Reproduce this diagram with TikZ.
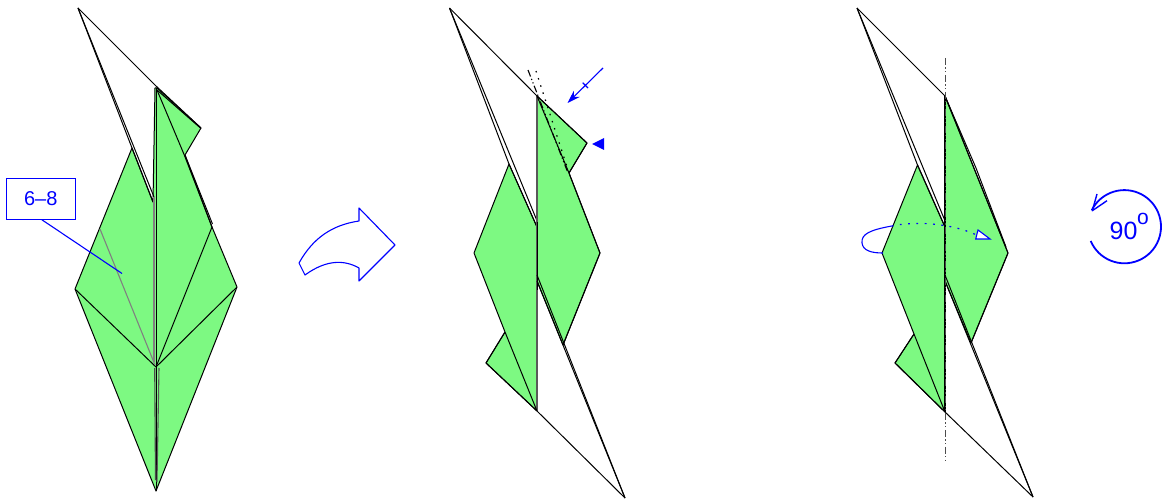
\documentclass[tikz,border=0pt]{standalone}
\usepackage{fontspec}
\setmainfont{Liberation Sans}
\usetikzlibrary{arrows.meta}
\definecolor{paper}{RGB}{125,249,130}
\tikzset{
  fold/.style={draw=black,line width=1pt,line join=round},
  paper fill/.style={fill=paper,draw=black,line width=1pt,line join=round},
  hidden/.style={draw=gray,line width=1.1pt},
  mark blue/.style={draw=blue,line width=1.1pt},
  lab/.style={text=blue,inner sep=0pt,font=\fontsize{20}{22}\selectfont},
  mountain/.style={draw=black,line width=1.1pt,dash pattern=on 7pt off 2.5pt on 1.2pt off 2.5pt on 1.2pt off 2.5pt},
  valley/.style={draw=black,line width=1.2pt,dash pattern=on 1.5pt off 6pt},
}
\begin{document}
\begin{tikzpicture}[x=1pt,y=-1pt]
\useasboundingbox (0,0) rectangle (1162,500);
% ---------- panel 1
\path[paper fill] (132,148) -- (153,202) -- (155,88) -- (157,88) -- (201,128) -- (185,155) -- (212,227) -- (237,287) -- (156,491) -- (75,289) -- cycle;
\draw[fold] (78,8) -- (156,86) -- (201,128);
\draw[fold] (78,8) -- (132,148) -- (153,202);
\draw[fold] (78,8) -- (154,197);
\draw[hidden,line width=2pt] (154.3,197) -- (154.3,362);
\draw[fold] (156,88) -- (156,367);
\draw[fold] (157,90) -- (201,128.5);
\draw[fold] (157,90) -- (184.3,155) -- (212,227);
\draw[fold] (185,155) -- (212.5,224);
\draw[fold] (212,227) -- (156,367);
\draw[fold] (237,287) -- (156,367) -- (75,289);
\draw[fold] (156,367) -- (156,491);
\draw[hidden] (100,229) -- (155,365);
\draw[hidden,draw=gray!70!black] (159,368) -- (157,482);
\draw[hidden,draw=gray!60!black] (154.7,368) -- (155.5,480);
% label
\node[draw=blue,line width=1.1pt,fill=white,minimum width=68.5pt,minimum height=41pt,lab] (tag) at (40.8,199) {6–8};
\coordinate (tagend) at (122,273.5);
\draw[mark blue] (41.5,219.5) -- (tagend);
% ---------- big arrow
\draw[mark blue,line join=round] (359,208) -- (395,245) -- (359,281) -- (359,268)
  .. controls (345,260) and (327,259) .. (305,275) -- (299,263)
  .. controls (313,238) and (332,225) .. (359,221) -- cycle;
% ---------- panel 2
\path[paper fill] (537,96) -- (587,143) -- (569,173) -- (600,253) -- (563,345) -- (537,281) -- (537,411) -- (486,363) -- (505,332) -- (474,253) -- (509,164) -- (537,227) -- cycle;
\draw[fold] (449.5,8) -- (537,96);
\draw[fold] (449.5,8) -- (509,164) -- (537,227);
\draw[fold] (449.5,8) -- (537.5,222);
\draw[hidden,line width=1.8pt,draw=black!65] (537,96) -- (537,411);
\draw[fold] (537,222) -- (537,290);
\draw[fold] (537,96) -- (587,143) -- (569,173);
\draw[fold] (537,96) -- (569,173) -- (600,253) -- (563,345);
\draw[fold] (505,332) -- (537,411) -- (486,363) -- (505,332);
\draw[fold] (537,411) -- (625,498);
\draw[fold] (537,281) -- (625,498);
\draw[fold] (537,275) -- (625,498);
\draw[mountain] (528,70) -- (568,173);
\draw[valley] (536,71) -- (568,170);
\coordinate (a1) at (603,68);
\coordinate (a2) at (567.5,103);
\draw[mark blue,-{Stealth[length=13pt,width=8.5pt]}] (a1) -- (a2);
\draw[mark blue] (582.7,82.7) -- (588,88);
\fill[blue] (592,144) -- (604,138) -- (604,150) -- cycle;
% ---------- panel 3
\path[paper fill] (945,96) -- (1008,253) -- (971,343) -- (945,281) -- (945,412) -- (895,363) -- (914,334) -- (882,253) -- (917.5,165) -- (945,227) -- cycle;
\draw[fold] (857,8) -- (945,96);
\draw[fold] (857,8) -- (917.5,165) -- (945,227);
\draw[fold] (857,8) -- (945.5,222);
\draw[fold] (945,96) -- (1008,253) -- (971,343);
\draw[fold] (945,96) -- (976,168) -- (1006,247);
\draw[fold] (914,334) -- (945,412) -- (895,363) -- (914,334);
\draw[fold] (945,412) -- (1033,497);
\draw[fold] (945,281) -- (1033,497);
\draw[fold] (945,275) -- (1033,497);
\draw[fold,line width=1.1pt] (945,96) -- (945,412);
\draw[mountain,draw=black!70,line width=1pt] (945,58) -- (945,463);
\coordinate (s1) at (891.7,226);
\coordinate (s2) at (883,253);
\coordinate (d1) at (975.5,234.5);
\draw[mark blue] (s1) .. controls (870,230) and (861,234) .. (862,243) .. controls (863,251) and (872,253) .. (s2);
\draw[mark blue,line width=1.2pt,dash pattern=on 1.8pt off 6.5pt] (s1) .. controls (915,221) and (950,223) .. (d1);
\draw[mark blue,fill=white,line join=miter] (978,230) -- (990,239) -- (975.7,239) -- cycle;
% ---------- rotation mark
\coordinate (c) at (1124,227);
\draw[blue,line width=1.8pt] (1090.7,241) arc[start angle=157,end angle=-153,radius=36.6];
\draw[blue,line width=1.4pt,line join=round] (1097,194) -- (1092.3,210.7) -- (1107,200.7);
\node[text=blue,inner sep=0pt,font=\fontsize{25}{28}\selectfont] (ninety) at (1123.5,230.5) {90};
\node[text=blue,inner sep=0pt,font=\fontsize{21}{24}\selectfont] (deg) at (1143,218.5) {o};
\end{tikzpicture}
\end{document}
